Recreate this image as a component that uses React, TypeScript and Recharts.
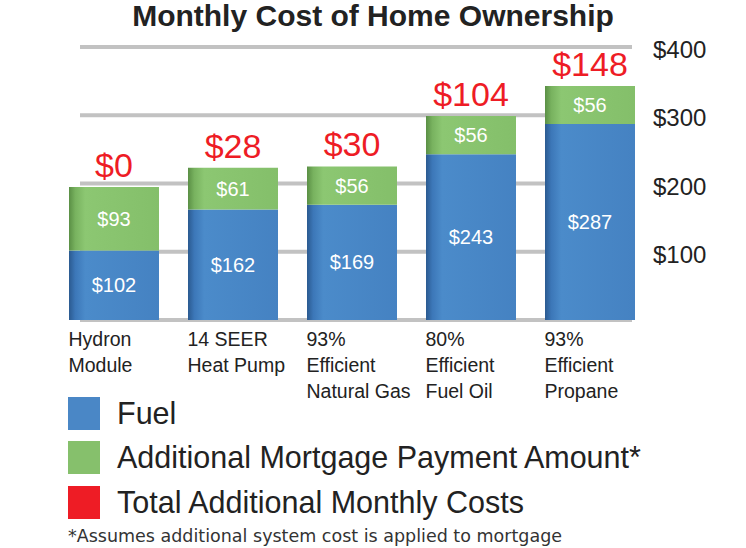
import { BarChart, Bar, XAxis, YAxis, CartesianGrid, LabelList } from 'recharts'

const categories = ['Hydron Module', '14 SEER Heat Pump', '93% Efficient Natural Gas', '80% Efficient Fuel Oil', '93% Efficient Propane']
const categoryLines = [
  ['Hydron', 'Module'],
  ['14 SEER', 'Heat Pump'],
  ['93%', 'Efficient', 'Natural Gas'],
  ['80%', 'Efficient', 'Fuel Oil'],
  ['93%', 'Efficient', 'Propane'],
]
const fuel = [102, 162, 169, 243, 287]
const mortgage = [93, 61, 56, 56, 56]
const totalCosts = [0, 28, 30, 104, 148]
const yTicks = [0, 100, 200, 300, 400]

const legendItems = [
  { label: 'Fuel', color: '#4a87c6' },
  { label: 'Additional Mortgage Payment Amount*', color: '#86c06c' },
  { label: 'Total Additional Monthly Costs', color: '#ee1c25' },
]

const data = categories.map((name, i) => ({
  name,
  fuel: fuel[i],
  mortgage: mortgage[i],
  total: totalCosts[i],
}))

const FONT = '"Liberation Sans", Arial, Helvetica, sans-serif'

const CategoryTick = ({ x, y, index }: any) => {
  const lines = categoryLines[index] || []
  return (
    <text x={x - 45} y={y} textAnchor="start" fontSize={19.5} fill="#222" fontFamily={FONT}>
      {lines.map((l, i) => (
        <tspan key={i} x={x - 45} dy={26}>{l}</tspan>
      ))}
    </text>
  )
}

const MoneyTick = ({ x, y, payload }: any) => {
  if (payload.value === 0) return null
  return (
    <text x={x + 4} y={y} dy={11} textAnchor="start" fontSize={24} fill="#222" fontFamily={FONT}>
      ${payload.value}
    </text>
  )
}

// grid lines are a bit shorter than the plot area, like the original
const GridLine = (props: any) => {
  const { x1, x2, y1, y2 } = props
  return <line x1={x1 + 26} x2={x2 - 17} y1={y1} y2={y2} stroke="#c2c2c2" strokeWidth={4} />
}

export default function App() {
  return (
    <div style={{ position: 'absolute', left: 0, top: 0, width: 746, height: 548, background: '#fff', fontFamily: FONT }}>
      <div style={{ position: 'absolute', top: -1, left: 0, width: 746, textAlign: 'center', fontSize: 30, fontWeight: 'bold', color: '#222' }}>
        Monthly Cost of Home Ownership
      </div>
      <BarChart width={746} height={548} data={data} margin={{ top: 47, right: 7, left: 54, bottom: 168 }}>
        <defs>
          <linearGradient id="blueGrad" x1="0" y1="0" x2="1" y2="0">
            <stop offset="0" stopColor="#2b5a90" />
            <stop offset="0.07" stopColor="#3c77b8" />
            <stop offset="0.18" stopColor="#4b8bca" />
            <stop offset="1" stopColor="#4582c2" />
          </linearGradient>
          <linearGradient id="greenGrad" x1="0" y1="0" x2="1" y2="0">
            <stop offset="0" stopColor="#5a8f45" />
            <stop offset="0.07" stopColor="#78b25f" />
            <stop offset="0.18" stopColor="#8cc772" />
            <stop offset="1" stopColor="#84bf6a" />
          </linearGradient>
        </defs>
        <CartesianGrid vertical={false} horizontal={GridLine} />
        <XAxis dataKey="name" axisLine={false} tickLine={false} tickSize={0} tickMargin={0} height={60} interval={0} tick={<CategoryTick />} />
        <YAxis orientation="right" domain={[0, 400]} ticks={yTicks} axisLine={false} tickLine={false} tickSize={0} tickMargin={0} width={90} tick={<MoneyTick />} />
        <Bar dataKey="fuel" stackId="a" barSize={90} fill="url(#blueGrad)" isAnimationActive={false}>
          <LabelList dataKey="fuel" position="center" fill="#fff" fontSize={20} fontFamily={FONT} formatter={(v: any) => `$${v}`} />
        </Bar>
        <Bar dataKey="mortgage" stackId="a" barSize={90} fill="url(#greenGrad)" isAnimationActive={false}>
          <LabelList dataKey="mortgage" position="center" fill="#fff" fontSize={20} fontFamily={FONT} formatter={(v: any) => `$${v}`} />
          <LabelList dataKey="total" position="top" offset={10} fill="#ee1c25" fontSize={34} fontFamily={FONT} formatter={(v: any) => `$${v}`} />
        </Bar>
      </BarChart>
      <div style={{ position: 'absolute', left: 68, top: 391 }}>
        {legendItems.map((item) => (
          <div key={item.label} style={{ display: 'flex', alignItems: 'center', height: 44.5 }}>
            <div style={{ width: 32, height: 33, background: item.color, marginRight: 17 }} />
            <span style={{ fontSize: 30.5, color: '#222' }}>{item.label}</span>
          </div>
        ))}
      </div>
      <div style={{ position: 'absolute', left: 68, top: 526, fontSize: 17.5, color: '#333', fontFamily: '"DejaVu Sans", sans-serif' }}>
        *Assumes additional system cost is applied to mortgage
      </div>
    </div>
  )
}
